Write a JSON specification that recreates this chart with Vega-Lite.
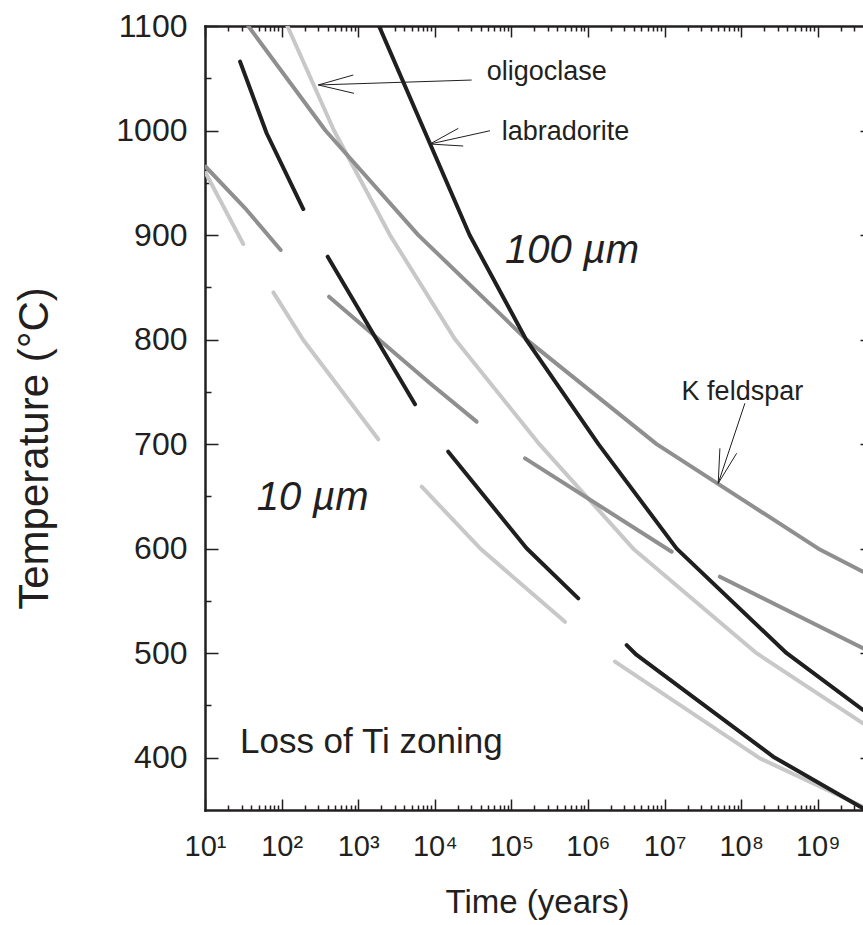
{
  "$schema": "https://vega.github.io/schema/vega-lite/v6.json",
  "width": 658,
  "height": 784,
  "autosize": {"type": "none"},
  "padding": {"left": 205, "top": 26, "right": 0, "bottom": 115},
  "background": "white",
  "config": {
    "view": {"stroke": null},
    "font": "Liberation Sans",
    "axis": {
      "grid": false,
      "domainColor": "#231f20",
      "tickColor": "#231f20",
      "labelColor": "#231f20",
      "titleColor": "#231f20",
      "labelFont": "Liberation Sans",
      "titleFont": "Liberation Sans",
      "titleFontWeight": "normal",
      "labelOverlap": false,
      "labelFlush": false,
      "domainWidth": 2.5,
      "domainCap": "square",
      "tickWidth": 1.5
    }
  },
  "datasets": {
    "olig": [
      {"seg": "100", "t": 119, "T": 1100}, {"seg": "100", "t": 483, "T": 1000}, {"seg": "100", "t": 2600, "T": 900}, {"seg": "100", "t": 18500, "T": 800}, {"seg": "100", "t": 232000, "T": 700}, {"seg": "100", "t": 3900000, "T": 600}, {"seg": "100", "t": 159000000, "T": 500}, {"seg": "100", "t": 3900000000, "T": 432.9},
      {"seg": "a", "t": 10.2, "T": 959.4}, {"seg": "a", "t": 31.6, "T": 891.5},
      {"seg": "b", "t": 78, "T": 845.2}, {"seg": "b", "t": 192, "T": 799.6}, {"seg": "b", "t": 1830, "T": 704.6},
      {"seg": "c", "t": 6750, "T": 659.3}, {"seg": "c", "t": 38900, "T": 600.4}, {"seg": "c", "t": 501000, "T": 530},
      {"seg": "d", "t": 2250000, "T": 491.9}, {"seg": "d", "t": 176000000, "T": 399.4}, {"seg": "d", "t": 3900000000, "T": 353.2}
    ],
    "kfs": [
      {"seg": "100", "t": 36.7, "T": 1100}, {"seg": "100", "t": 374, "T": 1000}, {"seg": "100", "t": 6100, "T": 900}, {"seg": "100", "t": 158000, "T": 800}, {"seg": "100", "t": 7880000, "T": 700}, {"seg": "100", "t": 1020000000, "T": 600}, {"seg": "100", "t": 3900000000, "T": 578},
      {"seg": "a", "t": 10.2, "T": 965.4}, {"seg": "a", "t": 35, "T": 924}, {"seg": "a", "t": 97.3, "T": 885.7},
      {"seg": "b", "t": 416, "T": 841}, {"seg": "b", "t": 8650, "T": 758.2}, {"seg": "b", "t": 35200, "T": 721.5},
      {"seg": "c", "t": 151000, "T": 686.4}, {"seg": "c", "t": 12400000, "T": 597.1},
      {"seg": "d", "t": 52800000, "T": 573.2}, {"seg": "d", "t": 3900000000, "T": 504.7}
    ],
    "lab": [
      {"seg": "100", "t": 1870, "T": 1100}, {"seg": "100", "t": 7300, "T": 1000}, {"seg": "100", "t": 28500, "T": 900}, {"seg": "100", "t": 156000, "T": 800}, {"seg": "100", "t": 1370000, "T": 700}, {"seg": "100", "t": 14400000, "T": 600}, {"seg": "100", "t": 393000000, "T": 500}, {"seg": "100", "t": 3900000000, "T": 445.7},
      {"seg": "a", "t": 28.7, "T": 1065.9}, {"seg": "a", "t": 63.8, "T": 997.4}, {"seg": "a", "t": 192, "T": 924.9},
      {"seg": "b", "t": 400, "T": 879.3}, {"seg": "b", "t": 1740, "T": 800}, {"seg": "b", "t": 5520, "T": 738.1},
      {"seg": "c", "t": 15000, "T": 692.8}, {"seg": "c", "t": 158000, "T": 600.4}, {"seg": "c", "t": 747000, "T": 552.5},
      {"seg": "d", "t": 3200000, "T": 507.8}, {"seg": "d", "t": 4320000, "T": 498.3}, {"seg": "d", "t": 262000000, "T": 401}, {"seg": "d", "t": 3900000000, "T": 351.6}
    ],
    "arrows": [
      {"id": "os", "o": 0, "t": 301, "T": 1043.6}, {"id": "os", "o": 1, "t": 30300, "T": 1048.3},
      {"id": "oh", "o": 0, "t": 863, "T": 1053.1}, {"id": "oh", "o": 1, "t": 301, "T": 1043.6}, {"id": "oh", "o": 2, "t": 881, "T": 1035.6},
      {"id": "ls", "o": 0, "t": 8650, "T": 987.1}, {"id": "ls", "o": 1, "t": 52600, "T": 999.8},
      {"id": "lh", "o": 0, "t": 20300, "T": 1002.1}, {"id": "lh", "o": 1, "t": 8650, "T": 987.1}, {"id": "lh", "o": 2, "t": 23500, "T": 985.2},
      {"id": "ks", "o": 0, "t": 50200000, "T": 662.5}, {"id": "ks", "o": 1, "t": 112000000, "T": 739.1},
      {"id": "kh", "o": 0, "t": 52800000, "T": 696}, {"id": "kh", "o": 1, "t": 50200000, "T": 662.5}, {"id": "kh", "o": 2, "t": 87300000, "T": 691.2}
    ]
  },
  "layer": [
    {
      "data": {"name": "olig"},
      "mark": {"type": "line", "color": "#c8c8c8", "strokeWidth": 4, "strokeCap": "round", "strokeJoin": "round", "clip": true},
      "encoding": {
        "x": {"field": "t", "type": "quantitative", "scale": {"type": "log", "domain": [10, 3900000000], "nice": false},
          "axis": {"orient": "bottom", "values": [10, 100, 1000, 10000, 100000, 1000000, 10000000, 100000000, 1000000000],
            "ticks": false, "domain": true, "labelFontSize": 29, "labelPadding": 22,
            "labelExpr": "'10' + ['⁰','¹','²','³','⁴','⁵','⁶','⁷','⁸','⁹'][round(log(datum.value)/LN10)]",
            "title": "Time (years)", "titleFontSize": 33, "titleX": 332, "titleY": 102, "titleBaseline": "alphabetic", "titleAlign": "center"}},
        "y": {"field": "T", "type": "quantitative", "scale": {"domain": [350, 1100], "nice": false, "zero": false},
          "axis": {"orient": "left", "values": [400, 500, 600, 700, 800, 900, 1000, 1100], "format": "d",
            "ticks": false, "domain": true, "labelFontSize": 32, "labelPadding": 18,
            "title": "Temperature (°C)", "titleFontSize": 42, "titleX": -158, "titleY": 422, "titleBaseline": "alphabetic", "titleAlign": "center", "titleAngle": 270}},
        "detail": {"field": "seg", "type": "nominal"}
      }
    },
    {
      "data": {"name": "kfs"},
      "mark": {"type": "line", "color": "#8f8f8f", "strokeWidth": 4, "strokeCap": "round", "strokeJoin": "round", "clip": true},
      "encoding": {
        "x": {"field": "t", "type": "quantitative", "scale": {"type": "log", "domain": [10, 3900000000], "nice": false}, "axis": null},
        "y": {"field": "T", "type": "quantitative", "scale": {"domain": [350, 1100], "nice": false, "zero": false}, "axis": null},
        "detail": {"field": "seg", "type": "nominal"}
      }
    },
    {
      "data": {"name": "lab"},
      "mark": {"type": "line", "color": "#1f1f1f", "strokeWidth": 4, "strokeCap": "round", "strokeJoin": "round", "clip": true},
      "encoding": {
        "x": {"field": "t", "type": "quantitative", "scale": {"type": "log", "domain": [10, 3900000000], "nice": false}, "axis": null},
        "y": {"field": "T", "type": "quantitative", "scale": {"domain": [350, 1100], "nice": false, "zero": false}, "axis": null},
        "detail": {"field": "seg", "type": "nominal"}
      }
    },
    {
      "data": {"name": "arrows"},
      "mark": {"type": "line", "color": "#231f20", "strokeWidth": 1},
      "encoding": {
        "x": {"field": "t", "type": "quantitative", "scale": {"type": "log", "domain": [10, 3900000000], "nice": false}, "axis": null},
        "y": {"field": "T", "type": "quantitative", "scale": {"domain": [350, 1100], "nice": false, "zero": false}, "axis": null},
        "detail": {"field": "id", "type": "nominal"},
        "order": {"field": "o", "type": "quantitative"}
      }
    },
    {
      "data": {"values": [
        {"label": "oligoclase", "t": 47600, "T": 1048.6},
        {"label": "labradorite", "t": 74700, "T": 990.9},
        {"label": "K feldspar", "t": 16700000, "T": 742.2}
      ]},
      "mark": {"type": "text", "align": "left", "baseline": "alphabetic", "fontSize": 27, "font": "Liberation Sans", "color": "#231f20"},
      "encoding": {
        "x": {"field": "t", "type": "quantitative", "scale": {"type": "log", "domain": [10, 3900000000], "nice": false}, "axis": null},
        "y": {"field": "T", "type": "quantitative", "scale": {"domain": [350, 1100], "nice": false, "zero": false}, "axis": null},
        "text": {"field": "label"}
      }
    },
    {
      "data": {"values": [
        {"label": "100 µm", "t": 82500, "T": 873.3},
        {"label": "10 µm", "t": 47.3, "T": 637}
      ]},
      "mark": {"type": "text", "align": "left", "baseline": "alphabetic", "fontSize": 40, "fontStyle": "italic", "font": "Liberation Sans", "color": "#231f20"},
      "encoding": {
        "x": {"field": "t", "type": "quantitative", "scale": {"type": "log", "domain": [10, 3900000000], "nice": false}, "axis": null},
        "y": {"field": "T", "type": "quantitative", "scale": {"domain": [350, 1100], "nice": false, "zero": false}, "axis": null},
        "text": {"field": "label"}
      }
    },
    {
      "data": {"values": [
        {"label": "Loss of Ti zoning", "t": 28.6, "T": 404.2}
      ]},
      "mark": {"type": "text", "align": "left", "baseline": "alphabetic", "fontSize": 35, "font": "Liberation Sans", "color": "#231f20"},
      "encoding": {
        "x": {"field": "t", "type": "quantitative", "scale": {"type": "log", "domain": [10, 3900000000], "nice": false}, "axis": null},
        "y": {"field": "T", "type": "quantitative", "scale": {"domain": [350, 1100], "nice": false, "zero": false}, "axis": null},
        "text": {"field": "label"}
      }
    },
    {
      "data": {"name": "lab"},
      "mark": {"type": "point", "opacity": 0},
      "encoding": {
        "x": {"field": "t", "type": "quantitative", "scale": {"type": "log", "domain": [10, 3900000000], "nice": false},
          "axis": {"orient": "bottom", "values": [10, 100, 1000, 10000, 100000, 1000000, 10000000, 100000000, 1000000000],
            "labels": false, "domain": false, "ticks": true, "tickSize": -11, "title": null}},
        "y": {"field": "T", "type": "quantitative", "scale": {"domain": [350, 1100], "nice": false, "zero": false},
          "axis": {"orient": "left", "values": [400, 500, 600, 700, 800, 900, 1000, 1100],
            "labels": false, "domain": false, "ticks": true, "tickSize": -13, "title": null}}
      }
    },
    {
      "data": {"name": "lab"},
      "mark": {"type": "point", "opacity": 0},
      "encoding": {
        "x": {"field": "t", "type": "quantitative", "scale": {"type": "log", "domain": [10, 3900000000], "nice": false},
          "axis": {"orient": "bottom", "values": [20, 30, 40, 50, 60, 70, 80, 90, 200, 300, 400, 500, 600, 700, 800, 900, 2000, 3000, 4000, 5000, 6000, 7000, 8000, 9000, 2e4, 3e4, 4e4, 5e4, 6e4, 7e4, 8e4, 9e4, 2e5, 3e5, 4e5, 5e5, 6e5, 7e5, 8e5, 9e5, 2e6, 3e6, 4e6, 5e6, 6e6, 7e6, 8e6, 9e6, 2e7, 3e7, 4e7, 5e7, 6e7, 7e7, 8e7, 9e7, 2e8, 3e8, 4e8, 5e8, 6e8, 7e8, 8e8, 9e8, 2e9, 3e9],
            "labels": false, "domain": false, "ticks": true, "tickSize": -5, "title": null}},
        "y": {"field": "T", "type": "quantitative", "scale": {"domain": [350, 1100], "nice": false, "zero": false},
          "axis": {"orient": "left", "values": [450, 550, 650, 750, 850, 950, 1050],
            "labels": false, "domain": false, "ticks": true, "tickSize": -6, "title": null}}
      }
    },
    {
      "data": {"name": "lab"},
      "mark": {"type": "point", "opacity": 0},
      "encoding": {
        "x": {"field": "t", "type": "quantitative", "scale": {"type": "log", "domain": [10, 3900000000], "nice": false},
          "axis": {"orient": "top", "values": [10, 100, 1000, 10000, 100000, 1000000, 10000000, 100000000, 1000000000],
            "labels": false, "domain": true, "ticks": true, "tickSize": -11, "title": null}},
        "y": {"field": "T", "type": "quantitative", "scale": {"domain": [350, 1100], "nice": false, "zero": false},
          "axis": {"orient": "right", "values": [400, 500, 600, 700, 800, 900, 1000],
            "labels": false, "domain": false, "ticks": true, "tickSize": -3, "title": null}}
      }
    },
    {
      "data": {"name": "lab"},
      "mark": {"type": "point", "opacity": 0},
      "encoding": {
        "x": {"field": "t", "type": "quantitative", "scale": {"type": "log", "domain": [10, 3900000000], "nice": false},
          "axis": {"orient": "top", "values": [20, 30, 40, 50, 60, 70, 80, 90, 200, 300, 400, 500, 600, 700, 800, 900, 2000, 3000, 4000, 5000, 6000, 7000, 8000, 9000, 2e4, 3e4, 4e4, 5e4, 6e4, 7e4, 8e4, 9e4, 2e5, 3e5, 4e5, 5e5, 6e5, 7e5, 8e5, 9e5, 2e6, 3e6, 4e6, 5e6, 6e6, 7e6, 8e6, 9e6, 2e7, 3e7, 4e7, 5e7, 6e7, 7e7, 8e7, 9e7, 2e8, 3e8, 4e8, 5e8, 6e8, 7e8, 8e8, 9e8, 2e9, 3e9],
            "labels": false, "domain": false, "ticks": true, "tickSize": -5, "title": null}},
        "y": {"field": "T", "type": "quantitative", "scale": {"domain": [350, 1100], "nice": false, "zero": false}, "axis": null}
      }
    }
  ],
  "resolve": {"axis": {"x": "independent", "y": "independent"}}
}
